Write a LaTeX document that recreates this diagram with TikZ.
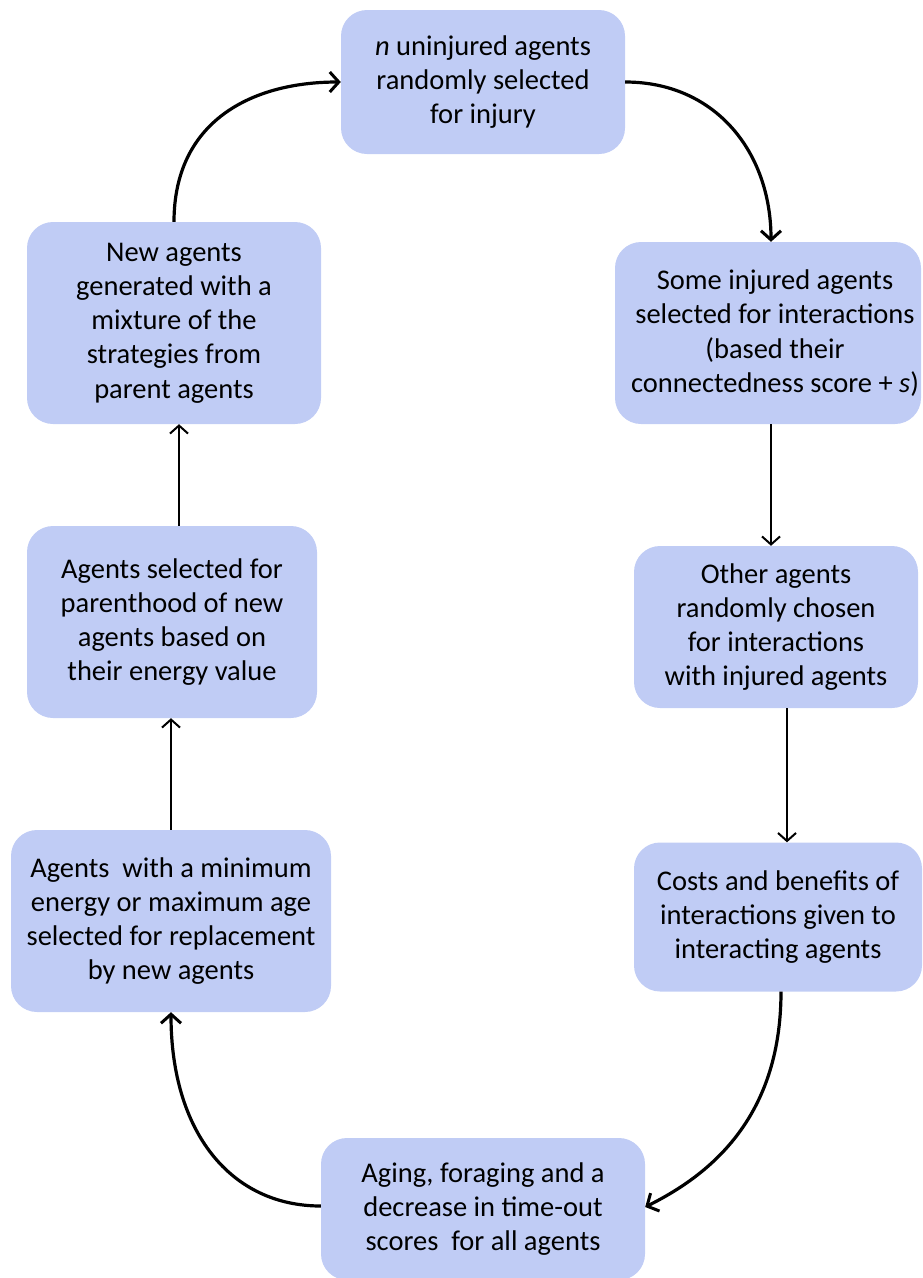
\documentclass[tikz,border=0pt]{standalone}
\usepackage{fontspec}
\setmainfont{Carlito}
\usetikzlibrary{arrows.meta}
\definecolor{boxblue}{RGB}{192,204,245}
\begin{document}
\begin{tikzpicture}[x=1pt,y=-1pt,
  box/.style={fill=boxblue,rounded corners=26pt,align=center,inner sep=0pt,
    font=\fontsize{28.5}{34.2}\selectfont},
  curvearrow/.style={line width=3.2pt,-{Straight Barb[length=9pt,width=20pt,line width=3pt]}},
  straightarrow/.style={line width=2pt,-{Straight Barb[length=8pt,width=18pt,line width=2pt]}}]
\useasboundingbox (0,0) rectangle (922,1278);
\node[box,minimum width=284pt,minimum height=144pt] (tp) at (483,82)
  {\textit{n} uninjured agents\\randomly selected\\for injury};
\node[box,minimum width=306pt,minimum height=182pt] (r1) at (768,333)
  {\hspace*{14pt}Some injured agents\\\hspace*{14pt}selected for interactions\\\hspace*{14pt}(based their\\\hspace*{14pt}connectedness score + \textit{s})};
\node[box,minimum width=284pt,minimum height=162pt] (r2) at (776,627)
  {Other agents\\randomly chosen\\for interactions\\with injured agents};
\node[box,minimum width=288pt,minimum height=149pt] (r3) at (778,917)
  {Costs and benefits of\\interactions given to\\interacting agents};
\node[box,minimum width=324pt,minimum height=142pt] (bt) at (483,1209)
  {Aging, foraging and a\\decrease in time-out\\scores~ for all agents};
\node[box,minimum width=320pt,minimum height=182pt] (lb) at (171,921)
  {Agents~ with a minimum\\energy or maximum age\\selected for replacement\\by new agents};
\node[box,minimum width=290pt,minimum height=192pt] (lm) at (172,622)
  {Agents selected for\\parenthood of new\\agents based on\\their energy value};
\node[box,minimum width=294pt,minimum height=202pt] (lt) at (174,323)
  {New agents\\generated with a\\mixture of the\\strategies from\\parent agents};
% curved arrows
\draw[curvearrow] (lt.north) .. controls +(0,-100) and +(-90,0) .. (tp.west);
\draw[curvearrow] (tp.east) .. controls +(90,0) and +(0,-90) .. ([xshift=3pt]r1.north);
\draw[curvearrow] ([xshift=3pt]r3.south) .. controls +(0,130) and +(60,-30) .. ([yshift=2pt]bt.east);
\draw[curvearrow] ([yshift=3pt]bt.west) .. controls +(-90,0) and +(0,120) .. (lb.south);
% straight arrows
\draw[straightarrow] ([xshift=3pt]r1.south) -- ([xshift=3pt]r1.south |- r2.north);
\draw[straightarrow] ([xshift=11pt]r2.south) -- ([xshift=11pt]r2.south |- r3.north);
\draw[straightarrow] (lb.north) -- (lb.north |- lm.south);
\draw[straightarrow] ([xshift=7pt]lm.north) -- ([xshift=7pt]lm.north |- lt.south);
\end{tikzpicture}
\end{document}
